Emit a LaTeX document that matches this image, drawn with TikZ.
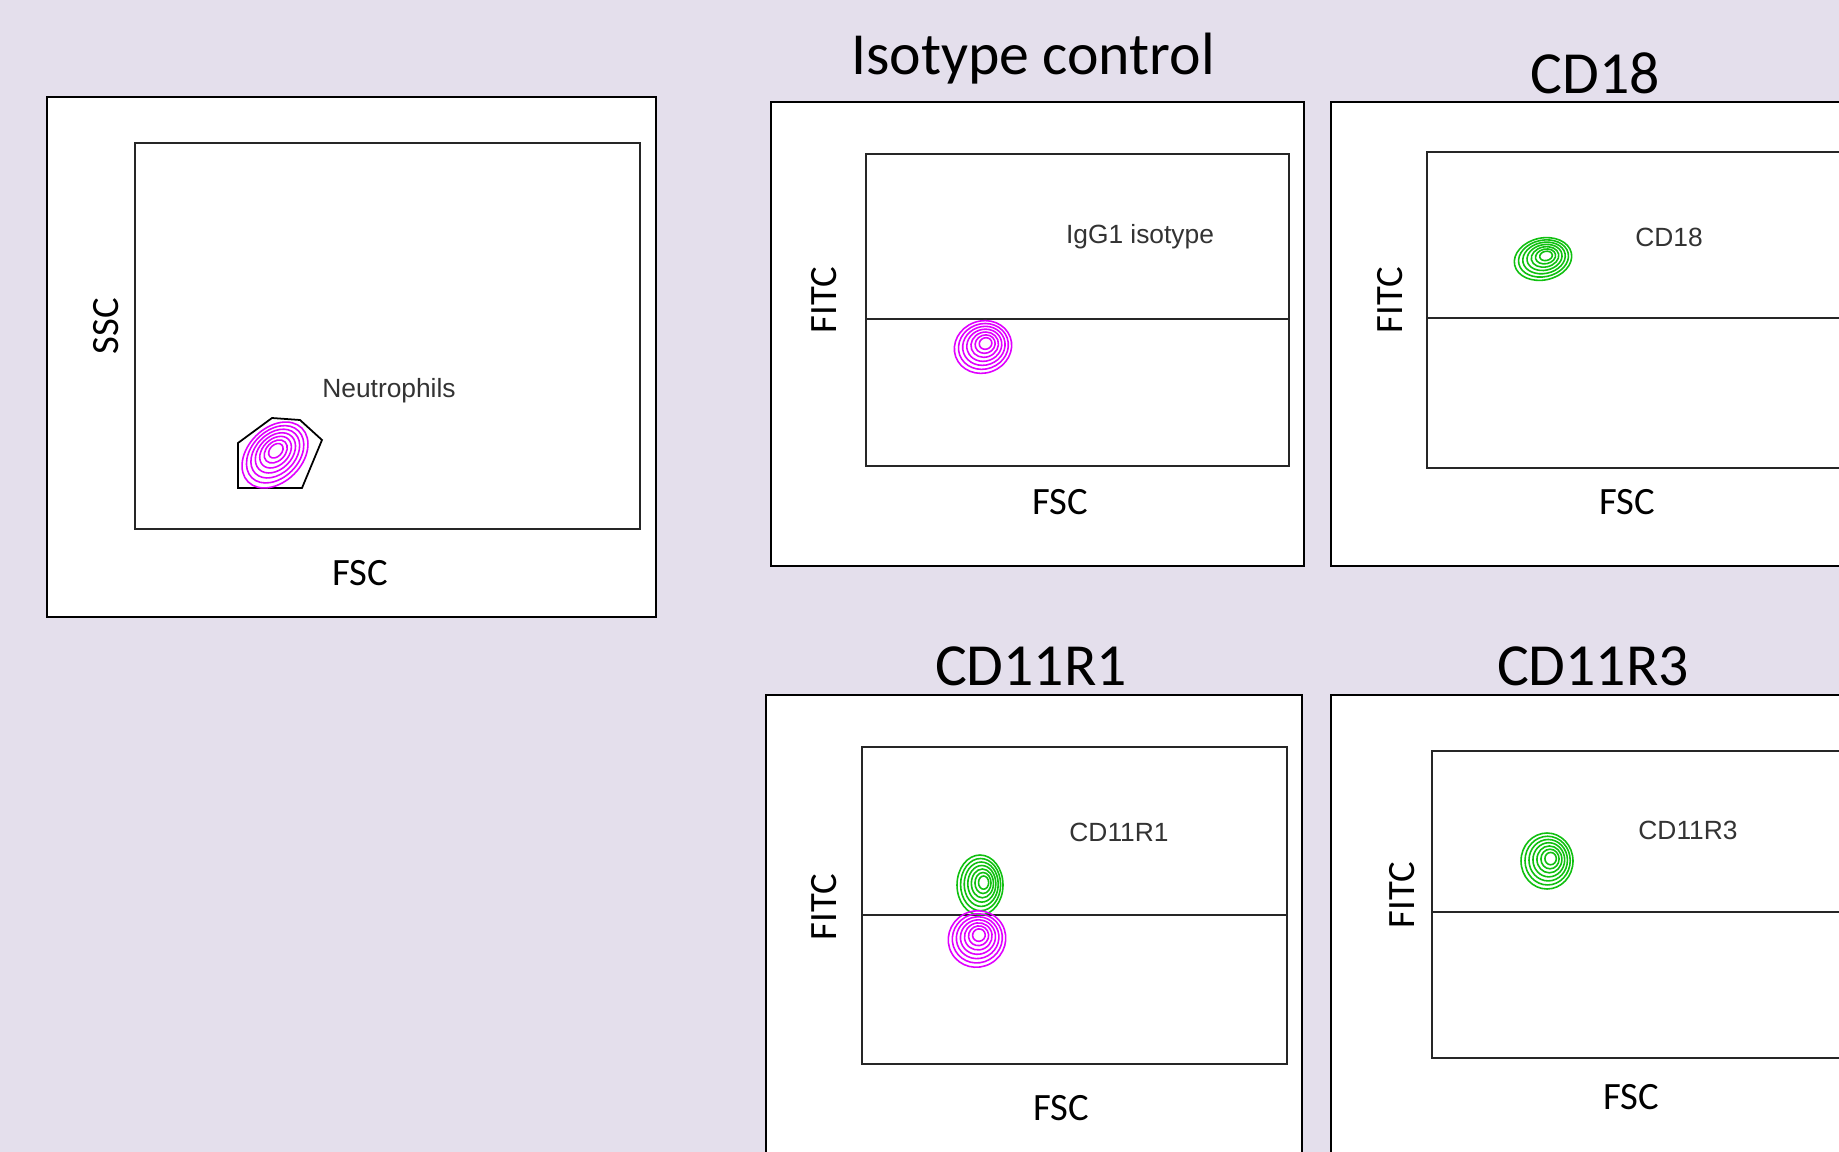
\documentclass[tikz,border=0pt]{standalone}
\usepackage{fontspec}
\setmainfont{Carlito}
\newfontfamily\arialf{Liberation Sans}
\definecolor{bgcol}{HTML}{E4DFEC}
\definecolor{magc}{HTML}{E000FF}
\definecolor{grnc}{HTML}{10C010}
\begin{document}
\begin{tikzpicture}[x=0.02cm,y=-0.02cm,
  panel/.style={draw=black, fill=white, line width=1.1pt},
  plotbox/.style={draw=black!85, line width=1pt},
  title/.style={font=\fontsize{34}{36}\selectfont, inner sep=0pt},
  axis/.style={font=\fontsize{22}{24}\selectfont, inner sep=0pt},
  glabel/.style={font=\arialf\fontsize{15}{17}\selectfont, text=black!80, inner sep=0pt},
  ring/.style={line width=0.9pt}]
\useasboundingbox (0,0) rectangle (1839,1152);
\clip (0,0) rectangle (1839,1152);
\fill[bgcol] (0,0) rectangle (1839,1152);
\newcommand\rings[6]{%
  \foreach \k in {0,...,6} {
    \draw[ring,#6, rotate around={#5:(#1,#2)}]
      ({#1+0.6*\k},{#2-0.4*\k}) ellipse [x radius={#3*(1-0.13*\k)}, y radius={#4*(1-0.13*\k)}];
  }}
% ---- Panel 1: SSC vs FSC
\draw[panel] (47,97) rectangle (656,617);
\draw[plotbox] (135,143) rectangle (640,529);
\node[axis, rotate=90] (ssc) at (106,326) {SSC};
\node[axis] (fsc1) at (360,573) {FSC};
\node[glabel] (neu) at (389,391) {Neutrophils};
\draw[black, line width=1pt] (238,488) -- (238,443) -- (272,418) -- (300,420) -- (322,440) -- (302,488) -- cycle;
\rings{275}{455}{38}{27}{45}{magc}
% ---- Panel 2: Isotype control
\node[title] (t2) at (1033,59) {Isotype control};
\draw[panel] (771,102) rectangle (1304,566);
\draw[plotbox] (866,154) rectangle (1289,466);
\draw[plotbox] (866,319) -- (1289,319);
\node[axis, rotate=90] (fitc2) at (824,300) {FITC};
\node[axis] (fsc2) at (1060,502) {FSC};
\node[glabel] (igg) at (1140,237) {IgG1 isotype};
\rings{983}{347}{29}{26}{20}{magc}
% ---- Panel 3: CD18
\node[title] (t3) at (1595,73) {CD18};
\draw[panel] (1331,102) rectangle (1900,566);
\draw[plotbox] (1427,152) rectangle (1900,468);
\draw[plotbox] (1427,318) -- (1900,318);
\node[axis, rotate=90] (fitc3) at (1390,300) {FITC};
\node[axis] (fsc3) at (1627,502) {FSC};
\node[glabel] (cd18) at (1669,237) {CD18};
\rings{1543}{259}{29}{21}{12}{grnc}
% ---- Panel 4: CD11R1
\node[title] (t4) at (1031,666) {CD11R1};
\draw[panel] (766,695) rectangle (1302,1200);
\draw[plotbox] (862,747) rectangle (1287,1064);
\draw[plotbox] (862,915) -- (1287,915);
\node[axis, rotate=90] (fitc4) at (824,907) {FITC};
\node[axis] (fsc4) at (1061,1108) {FSC};
\node[glabel] (cd11r1) at (1119,832) {CD11R1};
\rings{980}{885}{23}{30}{0}{grnc}
\rings{977}{939}{29}{28}{30}{magc}
% ---- Panel 5: CD11R3
\node[title] (t5) at (1593,666) {CD11R3};
\draw[panel] (1331,695) rectangle (1900,1200);
\draw[plotbox] (1432,751) rectangle (1900,1058);
\draw[plotbox] (1432,912) -- (1900,912);
\node[axis, rotate=90] (fitc5) at (1402,895) {FITC};
\node[axis] (fsc5) at (1631,1097) {FSC};
\node[glabel] (cd11r3) at (1688,830) {CD11R3};
\rings{1547}{861}{26}{28}{0}{grnc}
\end{tikzpicture}
\end{document}
